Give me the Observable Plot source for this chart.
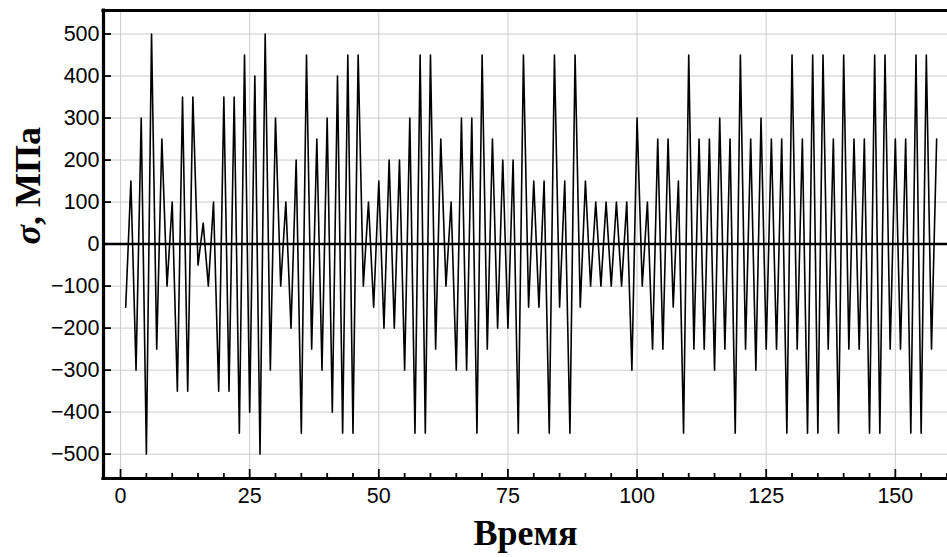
<!DOCTYPE html>
<html>
<head>
<meta charset="utf-8">
<script src="https://cdn.jsdelivr.net/npm/d3@7"></script>
<script src="https://cdn.jsdelivr.net/npm/@observablehq/plot@0.6"></script>
<style>
  html, body { margin: 0; padding: 0; background: #fff; overflow: hidden; }
</style>
</head>
<body>
<div id="chart"></div>
<script>
// σ (MPa) at each time step
const stress = [
  -150, 150, -300, 300, -500, 500, -250, 250, -100, 100,
  -350, 350, -350, 350, -50, 50, -100, 100, -350, 350,
  -350, 350, -450, 450, -400, 400, -500, 500, -300, 300,
  -100, 100, -200, 200, -450, 450, -250, 250, -300, 300,
  -400, 400, -450, 450, -450, 450, -100, 100, -150, 150,
  -200, 200, -200, 200, -300, 300, -450, 450, -450, 450,
  -250, 250, -100, 100, -300, 300, -300, 300, -450, 450,
  -250, 250, -200, 200, -200, 200, -450, 450, -150, 150,
  -150, 150, -450, 450, -150, 150, -450, 450, -150, 150,
  -100, 100, -100, 100, -100, 100, -100, 100, -300, 300,
  -100, 100, -250, 250, -250, 250, -150, 150, -450, 450,
  -250, 250, -250, 250, -300, 300, -250, 250, -450, 450,
  -250, 250, -300, 300, -250, 250, -250, 250, -450, 450,
  -250, 250, -450, 450, -450, 450, -250, 250, -450, 450,
  -250, 250, -250, 250, -450, 450, -450, 450, -250, 250,
  -250, 250, -450, 450, -450, 450, -250, 250
];
const time = stress.map((_, i) => i + 1);

const xTicks = [0, 25, 50, 75, 100, 125, 150];
const xMinorTicks = d3.range(0, 161, 5).filter(v => v % 25 !== 0);
const yTicks = [-500, -400, -300, -200, -100, 0, 100, 200, 300, 400, 500];
const xDomain = [-3.3, 160.1];
const yDomain = [-558, 556];
const xTitle = "Время";
const yTitle = "σ, МПа";

const data = time.map((t, i) => ({t, s: stress[i]}));

const chart = Plot.plot({
  width: 947,
  height: 557,
  marginLeft: 103,
  marginRight: 0,
  marginTop: 10,
  marginBottom: 79,
  style: {fontFamily: "'Liberation Sans', Arial, sans-serif", fontSize: "21.5px", background: "#fff", color: "#000"},
  x: {domain: xDomain, label: null},
  y: {domain: yDomain, label: null},
  marks: [
    Plot.gridX(xTicks, {stroke: "#cccccc", strokeOpacity: 1, strokeWidth: 1}),
    Plot.gridY(yTicks, {stroke: "#cccccc", strokeOpacity: 1, strokeWidth: 1}),
    Plot.ruleY([0], {stroke: "#000", strokeWidth: 2.5}),
    Plot.line(data, {x: "t", y: "s", stroke: "#000", strokeWidth: 1.6}),
    Plot.axisX({ticks: xMinorTicks, tickSize: -5, tickFormat: () => "", strokeWidth: 1.8}),
    Plot.axisX({ticks: xTicks, tickSize: -9, tickPadding: 18, strokeWidth: 1.8, tickFormat: d => String(d)}),
    Plot.axisY({ticks: yTicks, tickSize: -8, tickPadding: 12, strokeWidth: 1.8, tickFormat: d => d < 0 ? "\u2212" + Math.abs(d) : String(d)}),
    Plot.ruleX([xDomain[0]], {stroke: "#000", strokeWidth: 3.2, strokeLinecap: "square"}),
    Plot.ruleY(yDomain, {stroke: "#000", strokeWidth: 3.2, strokeLinecap: "square"}),
    Plot.text([xTitle], {frameAnchor: "bottom", dy: 66, lineAnchor: "bottom", fontSize: 36, fontWeight: "bold", fontFamily: "'Liberation Serif', 'Times New Roman', serif", fill: "#000"}),
    Plot.text([yTitle], {frameAnchor: "left", dx: -75, rotate: -90, fontSize: 36, fontWeight: "bold", fontFamily: "'Liberation Serif', 'Times New Roman', serif", fill: "#000"})
  ]
});

document.getElementById("chart").appendChild(chart);

// italic sigma in the y title
d3.select(chart).selectAll("text").each(function () {
  const el = d3.select(this);
  if (el.text() === yTitle) {
    el.text(null);
    el.append("tspan").attr("font-style", "italic").text("σ");
    el.append("tspan").text(", МПа");
  }
});
</script>
</body>
</html>
